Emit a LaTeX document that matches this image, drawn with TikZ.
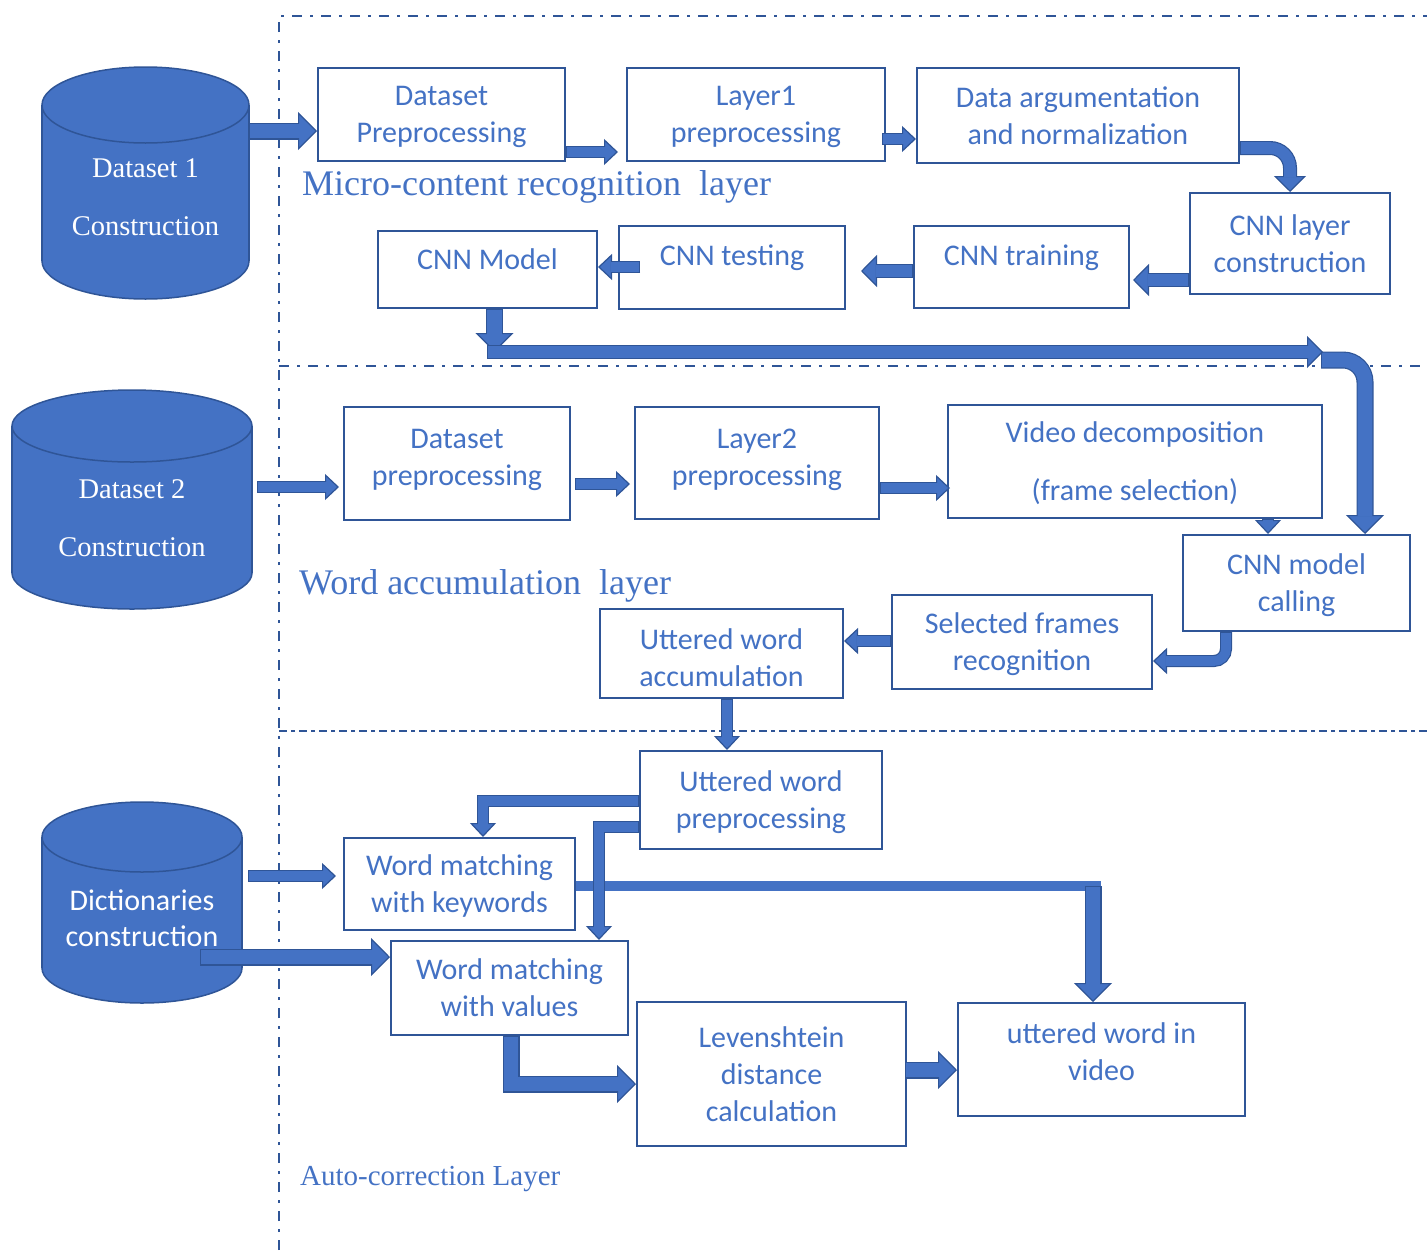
\documentclass[tikz,border=0pt]{standalone}
\usepackage{fontspec}
\setmainfont{Liberation Serif}
\newfontfamily\boxfont{Carlito}
\usetikzlibrary{arrows.meta,calc}
\definecolor{cblue}{RGB}{68,114,196}
\definecolor{cdark}{RGB}{47,85,151}
\tikzset{
  wbox/.style={draw=cdark, line width=2pt, fill=white, text=cblue, align=center, inner sep=0pt,
    text depth=0pt, font=\boxfont\fontsize{30}{37}\selectfont},
  drum/.style={text=white, align=center, inner sep=0pt},
  layertitle/.style={text=cblue, anchor=base west, inner sep=0pt, font=\fontsize{36}{40}\selectfont},
  sepline/.style={cdark, line width=2.5pt, dash pattern=on 10pt off 8pt on 3pt off 8pt},
  blk/.style n args={5}{line width=#1, draw=cdark,
    -{Triangle[length=#4, width=#3, line width=1.2pt, color=cdark, fill=cblue]},
    postaction={draw=cblue, line width=#2, -, shorten >=#5, shorten <=1.2pt}},
  bigarr/.style={blk={17pt}{14.6pt}{38pt}{19pt}{17.5pt}},
  midarr/.style={blk={14pt}{11.6pt}{32pt}{16pt}{14.5pt}},
  smallarr/.style={blk={12pt}{9.6pt}{26pt}{14pt}{12.5pt}},
}
\begin{document}
\begin{tikzpicture}[x=1pt, y=-1pt]
\useasboundingbox (0,0) rectangle (1427,1256);

\draw[sepline] (279,1250) -- (279,16) -- (1427,16);
\draw[sepline] (279,366) -- (1427,366);
\draw[sepline, dash pattern=on 8pt off 4pt on 4pt off 4pt] (279,731) -- (1427,731);

\foreach \cx/\rx/\yt/\yb/\ry in {145.5/103.5/105/261/38, 132/120/426/573/36, 142/100/837/968/35}
{
  \filldraw[fill=cblue, draw=cdark, line width=1.5pt] (\cx,\yb) ellipse [x radius=\rx, y radius=\ry];
  \fill[cblue] (\cx-\rx,\yt) rectangle (\cx+\rx,\yb);
  \draw[cdark, line width=1.5pt] (\cx-\rx,\yt) -- (\cx-\rx,\yb) (\cx+\rx,\yt) -- (\cx+\rx,\yb);
  \filldraw[fill=cblue, draw=cdark, line width=1.5pt] (\cx,\yt) ellipse [x radius=\rx, y radius=\ry];
}
\node[drum, minimum width=207, minimum height=232, text height=105pt, font=\fontsize{28.5}{58}\selectfont] (ds1) at (145.5,183) {Dataset 1\\Construction};
\node[drum, minimum width=240, minimum height=219, text height=114pt, font=\fontsize{28.5}{58}\selectfont] (ds2) at (132,499.5) {Dataset 2\\Construction};
\node[drum, minimum width=200, minimum height=201, text height=88pt, font=\boxfont\fontsize{30}{36}\selectfont] (dict) at (142,902.5) {Dictionaries\\construction};

\node[wbox, minimum width=247, minimum height=93] (dsp1) at (441.5,114.5) {Dataset\\Preprocessing};
\node[wbox, minimum width=258, minimum height=93] (lay1) at (756,114.5) {Layer1\\preprocessing};
\node[wbox, minimum width=322, minimum height=95] (dan) at (1078,115.5) {Data argumentation\\and normalization};
\node[wbox, minimum width=200, minimum height=101] (cnnlc) at (1290,243.5) {CNN layer\\construction};
\node[wbox, minimum width=215, minimum height=82, text depth=24pt] (cnntr) at (1021.5,267) {CNN training};
\node[wbox, minimum width=226, minimum height=83, text depth=24pt] (cnnte) at (732,267.5) {CNN testing};
\node[wbox, minimum width=219, minimum height=77, text depth=21pt] (cnnm) at (487.5,269.5) {CNN Model};
\node[wbox, minimum width=226, minimum height=113, text depth=12pt] (dsp2) at (457,463.5) {Dataset\\preprocessing};
\node[wbox, minimum width=244, minimum height=112, text depth=12pt] (lay2) at (757,463) {Layer2\\preprocessing};
\node[wbox, minimum width=374, minimum height=113] (vdec) at (1135,461.5) {Video decomposition\\[21pt](frame selection)};
\node[wbox, minimum width=227, minimum height=96] (cnnmc) at (1296.5,583) {CNN model\\calling};
\node[wbox, minimum width=260, minimum height=94] (sfr) at (1022,642) {Selected frames\\recognition};
\node[wbox, minimum width=243, minimum height=89, text height=66pt] (uwa) at (721.5,653.5) {Uttered word\\accumulation};
\node[wbox, minimum width=242, minimum height=98] (uwp) at (761,800) {Uttered word\\preprocessing};
\node[wbox, minimum width=231, minimum height=92] (wmk) at (459.5,884) {Word matching\\with keywords};
\node[wbox, minimum width=237, minimum height=94] (wmv) at (509.5,988) {Word matching\\with values};
\node[wbox, minimum width=269, minimum height=144] (lev) at (771.5,1074) {Levenshtein\\distance\\calculation};
\node[wbox, minimum width=287, minimum height=113, text depth=15pt] (uwv) at (1101.5,1059.5) {uttered word in\\video};

\node[layertitle] (mcr) at (302,195) {Micro-content recognition\ \ layer};
\node[layertitle] (wal) at (299,594) {Word accumulation\ \ layer};
\node[layertitle, font=\fontsize{29}{32}\selectfont] (acl) at (300,1185) {Auto-correction Layer};

\draw[bigarr] (ds1.east |- 0,131) -- (dsp1.west |- 0,131);
\draw[smallarr] (dsp1.east |- 0,152) -- ([xshift=-8]lay1.west |- 0,152);
\draw[smallarr] ([xshift=-4]lay1.east |- 0,139) -- (dan.west |- 0,139);
\draw[midarr, rounded corners=20] (dan.east |- 0,148) -| (cnnlc.north);
\draw[midarr] (cnnlc.west |- 0,280) -- ([xshift=3]cnntr.east |- 0,280);
\draw[midarr] (cnntr.west |- 0,271) -- ([xshift=15]cnnte.east |- 0,271);
\draw[smallarr] ([xshift=22]cnnte.west |- 0,267) -- (cnnm.east |- 0,267);

\coordinate (barL) at (487,352);
\coordinate (barR) at (1323,352);
\draw[bigarr] ([xshift=7]cnnm.south) -- ([xshift=7]cnnm.south |- barL);
\draw[bigarr, rounded corners=22] ([xshift=-2]barR |- 0,360) -| (cnnmc.north -| 1365,0);
\draw[midarr] (barL) -- (barR);

\draw[smallarr] ([xshift=5]ds2.east |- 0,487) -- ([xshift=-4]dsp2.west |- 0,487);
\draw[smallarr] ([xshift=4]dsp2.east |- 0,484) -- ([xshift=-4]lay2.west |- 0,484);
\draw[smallarr] (lay2.east |- 0,488) -- ([xshift=3]vdec.west |- 0,488);
\draw[smallarr] (vdec.south -| 1268,0) -- (cnnmc.north -| 1268,0);
\draw[smallarr, rounded corners=12] (cnnmc.south -| 1226,0) |- (sfr.east |- 0,661);
\draw[smallarr] (sfr.west |- 0,641) -- (uwa.east |- 0,641);
\draw[smallarr] (uwa.south -| 727,0) -- (uwp.north -| 727,0);

\draw[smallarr] (uwp.west |- 0,801) -| (wmk.north -| 483,0);
\coordinate (knee) at (1093,886);
\draw[cblue, line width=10pt] (wmk.east |- knee) -- ([xshift=8]knee);
\draw[bigarr] (knee) -- (uwv.north -| knee);
\draw[smallarr] (uwp.west |- 0,827) -| (wmv.north -| 599,0);
\draw[smallarr] ([xshift=6]dict.east |- 0,876) -- ([xshift=-7]wmk.west |- 0,876);
\draw[bigarr] ([xshift=-42]dict.east |- 0,957) -- (wmv.west |- 0,957);
\draw[bigarr] (wmv.south -| 511,0) |- (lev.west |- 0,1084);
\draw[bigarr] ([xshift=-2]lev.east |- 0,1070) -- (uwv.west |- 0,1070);
\end{tikzpicture}
\end{document}
